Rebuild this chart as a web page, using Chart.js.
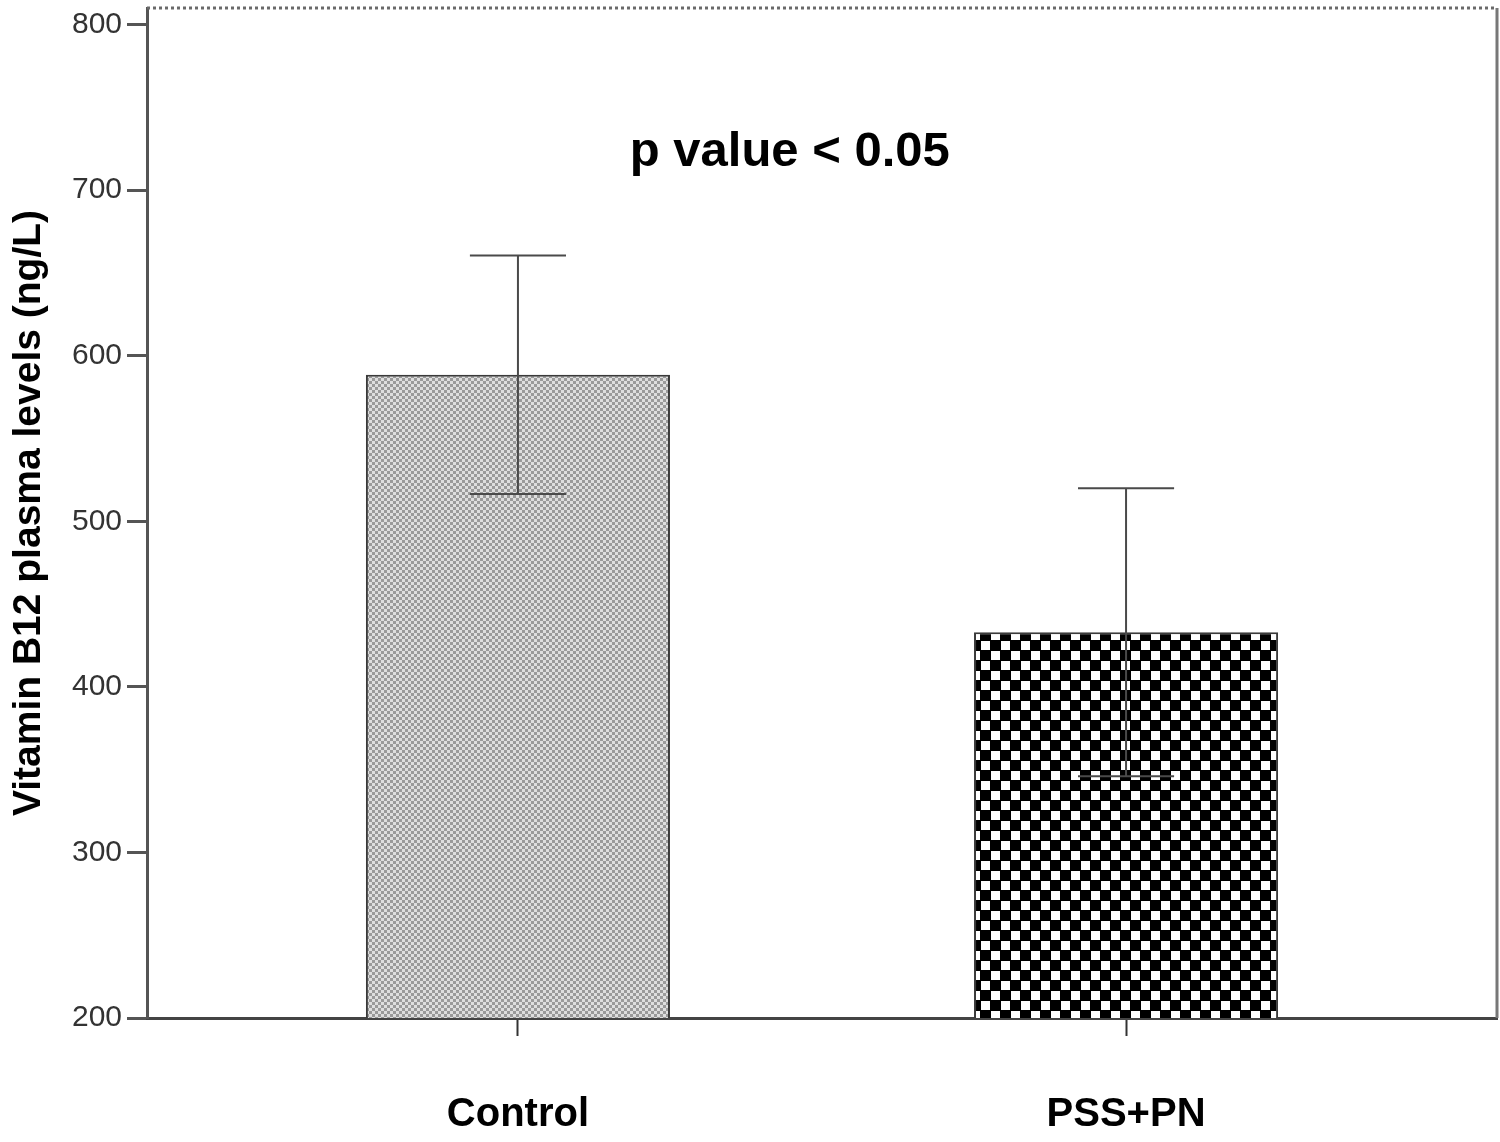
<!DOCTYPE html>
<html>
<head>
<meta charset="utf-8">
<script src="https://cdn.jsdelivr.net/npm/chart.js@4/dist/chart.umd.min.js"></script>
<style>
  html, body { margin: 0; padding: 0; background: #ffffff; }
  #wrap { width: 1500px; height: 1142px; }
</style>
</head>
<body>
<div id="wrap"><canvas id="c" width="1500" height="1142"></canvas></div>
<script>
// ---- data ----
const categories = ['Control', 'PSS+PN'];
const means = [588.5, 433];
const errors = [72, 87];
const yTicks = [200, 300, 400, 500, 600, 700, 800];
const yTitle = 'Vitamin B12 plasma levels (ng/L)';
const annotationText = 'p value < 0.05';
const annotationPos = { x: 0.447, y: 723 };

// ---- patterns ----
function fineChecker() {
  const cell = 3;
  const t = document.createElement('canvas');
  t.width = cell * 2; t.height = cell * 2;
  const g = t.getContext('2d');
  g.fillStyle = '#dedede'; g.fillRect(0, 0, cell * 2, cell * 2);
  g.fillStyle = '#9a9a9a';
  g.fillRect(0, 0, cell, cell);
  g.fillRect(cell, cell, cell, cell);
  return document.getElementById('c').getContext('2d').createPattern(t, 'repeat');
}
function coarseChecker() {
  const t = document.createElement('canvas');
  t.width = 20; t.height = 20;
  const g = t.getContext('2d');
  g.fillStyle = '#000000'; g.fillRect(0, 0, 20, 20);
  g.fillStyle = '#ffffff';
  g.fillRect(1, 1, 9, 9);
  g.fillRect(11, 11, 9, 9);
  return document.getElementById('c').getContext('2d').createPattern(t, 'repeat');
}
const patterns = [fineChecker(), coarseChecker()];

const errorBarPlugin = {
  id: 'errorBars',
  afterDatasetsDraw(chart) {
    const ctx = chart.ctx;
    const meta = chart.getDatasetMeta(0);
    const ys = chart.scales.y;
    ctx.save();
    ctx.strokeStyle = '#4a4a4a';
    ctx.lineWidth = 2;
    meta.data.forEach((bar, i) => {
      const x = bar.x;
      const capHalf = bar.width * 0.158;
      const yHi = ys.getPixelForValue(means[i] + errors[i]);
      const yLo = ys.getPixelForValue(means[i] - errors[i]);
      ctx.beginPath();
      ctx.moveTo(x, yHi); ctx.lineTo(x, yLo);
      ctx.moveTo(x - capHalf, yHi); ctx.lineTo(x + capHalf, yHi);
      ctx.moveTo(x - capHalf, yLo); ctx.lineTo(x + capHalf, yLo);
      ctx.stroke();
    });
    ctx.restore();
  }
};

const framePlugin = {
  id: 'frame',
  afterDraw(chart) {
    const ctx = chart.ctx;
    const a = chart.chartArea;
    ctx.save();
    ctx.strokeStyle = '#777777';
    ctx.lineWidth = 3;
    ctx.beginPath();
    ctx.moveTo(a.right, a.top); ctx.lineTo(a.right, a.bottom);
    ctx.stroke();
    ctx.setLineDash([3, 3]);
    ctx.strokeStyle = '#6a6a6a';
    ctx.beginPath();
    ctx.moveTo(a.left, a.top); ctx.lineTo(a.right, a.top);
    ctx.stroke();
    ctx.restore();
  }
};

const annotationPlugin = {
  id: 'pval',
  afterDraw(chart) {
    const ctx = chart.ctx;
    const x = chart.scales.x.getPixelForValue(annotationPos.x);
    const y = chart.scales.y.getPixelForValue(annotationPos.y);
    ctx.save();
    ctx.fillStyle = '#000000';
    ctx.font = 'bold 49px "Liberation Sans", Arial, sans-serif';
    ctx.textAlign = 'center';
    ctx.textBaseline = 'middle';
    ctx.fillText(annotationText, x, y);
    ctx.restore();
  }
};

new Chart(document.getElementById('c'), {
  type: 'bar',
  data: {
    datasets: [{
      data: categories.map((c, i) => ({ x: i, y: means[i] })),
      backgroundColor: patterns,
      borderColor: '#3a3a3a',
      borderWidth: 2,
      borderSkipped: 'bottom',
      categoryPercentage: 1,
      barPercentage: 0.5
    }]
  },
  options: {
    responsive: false,
    devicePixelRatio: 1,
    animation: false,
    layout: { padding: { top: 8, right: 3, left: 0, bottom: 0 } },
    plugins: { legend: { display: false }, tooltip: { enabled: false } },
    scales: {
      x: {
        type: 'linear',
        offset: false,
        min: -0.61,
        max: 1.61,
        afterBuildTicks: (s) => { s.ticks = categories.map((c, i) => ({ value: i })); },
        afterFit: (s) => { s.height = 124; s.paddingLeft = 0; s.paddingRight = 0; },
        border: { display: true, color: '#444444', width: 3 },
        grid: { display: true, offset: false, drawOnChartArea: false, drawTicks: true, tickLength: 18, tickWidth: 2, tickColor: '#333333' },
        ticks: {
          autoSkip: false,
          maxRotation: 0,
          padding: 55,
          color: '#000000',
          font: { family: '"Liberation Sans", Arial, sans-serif', size: 40, weight: 'bold' },
          callback: (v) => categories[v]
        }
      },
      y: {
        type: 'linear',
        min: 200,
        max: 810,
        afterBuildTicks: (s) => { s.ticks = yTicks.map(v => ({ value: v })); },
        afterFit: (s) => { s.width = 147; s.paddingTop = 0; s.paddingBottom = 0; },
        border: { display: true, color: '#555555', width: 3 },
        grid: { display: true, drawOnChartArea: false, drawTicks: true, tickLength: 20, tickWidth: 3, tickColor: '#555555' },
        ticks: {
          padding: 5,
          color: '#333333',
          font: { family: '"Liberation Sans", Arial, sans-serif', size: 30 }
        },
        title: {
          display: true,
          text: yTitle,
          color: '#000000',
          padding: { top: 6, bottom: 0 },
          font: { family: '"Liberation Sans", Arial, sans-serif', size: 39, weight: 'bold' }
        }
      }
    }
  },
  plugins: [errorBarPlugin, framePlugin, annotationPlugin]
});
</script>
</body>
</html>
